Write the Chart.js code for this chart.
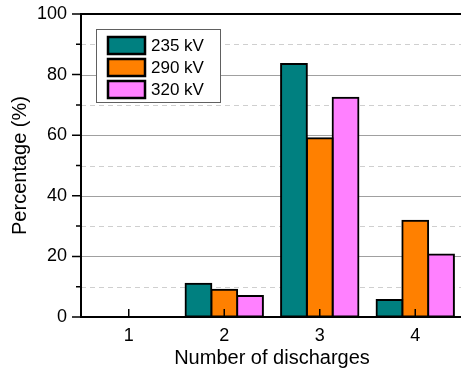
<!DOCTYPE html>
<html>
<head>
<meta charset="utf-8">
<script src="https://cdn.jsdelivr.net/npm/chart.js@4/dist/chart.umd.min.js"></script>
<style>
  html, body { margin: 0; padding: 0; background: #fff; overflow: hidden; }
  #wrap { width: 466px; height: 372px; }
</style>
</head>
<body>
<div id="wrap"><canvas id="c" width="466" height="372"></canvas></div>
<script>
// Share of events by number of discharges, per applied voltage
const categories = ['1', '2', '3', '4'];
const seriesNames = ['235 kV', '290 kV', '320 kV'];
const kv235 = [0, 11.0, 83.5, 5.6];
const kv290 = [0, 9.0, 59.0, 31.8];
const kv320 = [0, 6.9, 72.4, 20.6];
const yMajorTicks = [0, 20, 40, 60, 80, 100];
const yMinorTicks = [10, 30, 50, 70, 90];

const colors = ['#008080', '#FF8000', '#FF80FF'];
const FONT = '"Liberation Sans", Arial, Helvetica, sans-serif';

// Grid lines behind the bars: solid at major ticks, dashed at minor ticks
const gridPlugin = {
  id: 'grid',
  beforeDatasetsDraw(chart) {
    const { ctx, chartArea: a, scales: { y } } = chart;
    ctx.save();
    ctx.lineWidth = 1;
    ctx.strokeStyle = '#cfcfcf';
    ctx.setLineDash([5, 4]);
    yMinorTicks.forEach(v => {
      const py = Math.round(y.getPixelForValue(v)) + 0.5;
      ctx.beginPath(); ctx.moveTo(a.left, py); ctx.lineTo(a.right, py); ctx.stroke();
    });
    ctx.setLineDash([]);
    ctx.strokeStyle = '#a0a0a0';
    yMajorTicks.filter(v => v > 0 && v < 100).forEach(v => {
      const py = Math.round(y.getPixelForValue(v)) + 0.5;
      ctx.beginPath(); ctx.moveTo(a.left, py); ctx.lineTo(a.right, py); ctx.stroke();
    });
    ctx.restore();
  },
  afterDatasetsDraw(chart) {
    const { ctx, chartArea: a, scales: { x, y } } = chart;
    ctx.save();
    ctx.strokeStyle = '#000';
    ctx.lineWidth = 2;
    // frame: left, bottom, top
    ctx.beginPath();
    ctx.moveTo(a.left, a.top); ctx.lineTo(a.right, a.top);
    ctx.moveTo(a.left, a.top - 1); ctx.lineTo(a.left, a.bottom + 1);
    ctx.moveTo(a.left - 1, a.bottom); ctx.lineTo(a.right, a.bottom);
    ctx.stroke();
    // y ticks, outward
    ctx.lineWidth = 1.5;
    ctx.beginPath();
    yMajorTicks.forEach(v => {
      const py = y.getPixelForValue(v);
      ctx.moveTo(a.left - 9, py); ctx.lineTo(a.left, py);
    });
    yMinorTicks.forEach(v => {
      const py = y.getPixelForValue(v);
      ctx.moveTo(a.left - 5, py); ctx.lineTo(a.left, py);
    });
    // x ticks, inward
    categories.forEach((c, i) => {
      const px = x.getPixelForValue(i);
      ctx.moveTo(px, a.bottom - 8); ctx.lineTo(px, a.bottom);
    });
    ctx.stroke();
    ctx.restore();
  }
};

// Boxed legend inside the plot, upper left
const legendPlugin = {
  id: 'boxLegend',
  afterDatasetsDraw(chart) {
    const { ctx } = chart;
    const bx = 96.5, by = 29.5, bw = 124, bh = 73;
    ctx.save();
    ctx.fillStyle = '#fff';
    ctx.fillRect(bx, by, bw, bh);
    ctx.strokeStyle = '#606060';
    ctx.lineWidth = 1;
    ctx.strokeRect(bx, by, bw, bh);
    ctx.font = '17px ' + FONT;
    ctx.textBaseline = 'middle';
    chart.data.datasets.forEach((ds, i) => {
      const sy = 37 + i * 22;
      ctx.fillStyle = ds.backgroundColor;
      ctx.fillRect(108, sy, 37, 17);
      ctx.strokeStyle = '#000';
      ctx.lineWidth = 2.5;
      ctx.strokeRect(108, sy, 37, 17);
      ctx.fillStyle = '#000';
      ctx.fillText(ds.label, 151, sy + 9);
    });
    ctx.restore();
  }
};

const hidden = 'rgba(0,0,0,0)';

new Chart(document.getElementById('c'), {
  type: 'bar',
  data: {
    labels: categories,
    datasets: [
      { label: seriesNames[0], data: kv235, backgroundColor: colors[0] },
      { label: seriesNames[1], data: kv290, backgroundColor: colors[1] },
      { label: seriesNames[2], data: kv320, backgroundColor: colors[2] }
    ].map(d => Object.assign(d, {
      borderColor: '#000', borderWidth: 2, borderSkipped: false, inflateAmount: 1,
      categoryPercentage: 0.81, barPercentage: 1.0
    }))
  },
  options: {
    responsive: false,
    animation: false,
    layout: { padding: { top: 14, right: 3, left: 0, bottom: 0 } },
    plugins: { legend: { display: false }, tooltip: { enabled: false } },
    scales: {
      x: {
        grid: { display: false, drawTicks: false },
        border: { display: false },
        ticks: { color: '#000', font: { size: 18, family: FONT }, padding: 8 },
        title: { display: true, text: 'Number of discharges', color: '#000',
                 font: { size: 20, family: FONT }, padding: { top: 0, bottom: 2 } },
        afterFit(s) { s.height = 55; }
      },
      y: {
        min: 0, max: 100,
        grid: { display: true, drawOnChartArea: false, color: hidden, tickColor: hidden,
                drawTicks: true, tickLength: 14 },
        border: { display: false },
        ticks: { stepSize: 20, color: '#000', font: { size: 18, family: FONT }, padding: 0 },
        title: { display: true, text: 'Percentage (%)', color: '#000',
                 font: { size: 20, family: FONT }, padding: { top: 8, bottom: 0 } },
        afterFit(s) { s.width = 81; }
      }
    }
  },
  plugins: [gridPlugin, legendPlugin]
});
</script>
</body>
</html>
